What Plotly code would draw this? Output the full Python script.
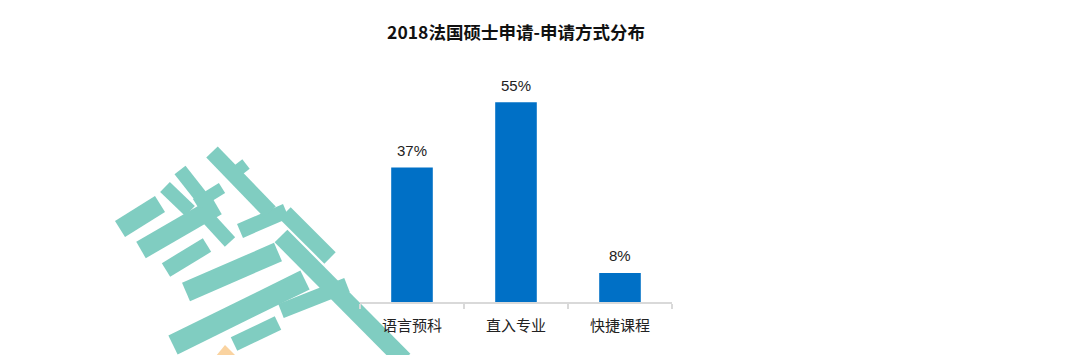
import plotly.graph_objects as go

categories = ["语言预科", "直入专业", "快捷课程"]
values = [37, 55, 8]
labels = ["37%", "55%", "8%"]

W, H = 1074, 355
L, R, T, B = 360, 672, 84, 302  # plot area in pixels

fig = go.Figure(go.Bar(
    x=categories, y=values,
    marker=dict(color="#0070C6", line=dict(width=0)),
    width=0.4, hoverinfo="x+y",
))

for c, v, t in zip(categories, values, labels):
    fig.add_annotation(x=c, y=v, xref="x", yref="y", text=t, showarrow=False,
                       yanchor="middle", yshift=17,
                       font=dict(family="Liberation Sans, Arial", size=15, color="#222222"))

def px(x, y):
    return (x - L) / (R - L), (B - y) / (B - T)

# decorative watermark strokes (pixel coords: x0, y0, x1, y1, width)
teal = "#80CDC1"
strokes = [
    (120, 229, 160, 204, 19),
    (141, 250, 217, 206, 19),
    (166, 270, 207, 245, 16),
    (186, 292, 278, 252, 20),
    (173, 345, 305, 280, 21),
    (234, 344, 278, 323, 15),
    (281, 311, 347, 285, 15),
    (240, 231, 286, 211, 15),
    (212, 152, 270, 212, 16),
    (228, 178, 246, 164, 12),
    (180, 170, 202, 198, 14),
    (165, 187, 190, 211, 14),
    (208, 218, 230, 242, 14),
    (196, 204, 222, 188, 12),
    (285, 213, 330, 258, 16),
    (281, 236, 404, 360, 18),
]
shapes = []
for x0, y0, x1, y1, w in strokes:
    a0, b0 = px(x0, y0)
    a1, b1 = px(x1, y1)
    shapes.append(dict(type="line", xref="paper", yref="paper", x0=a0, y0=b0, x1=a1, y1=b1,
                       line=dict(color=teal, width=w), layer="below"))
o = [px(216, 356), px(225, 345), px(236, 356)]
shapes.append(dict(type="path", xref="paper", yref="paper", layer="below",
                   path="M %f %f L %f %f L %f %f Z" % (o[0][0], o[0][1], o[1][0], o[1][1], o[2][0], o[2][1]),
                   fillcolor="#FAD3A0", line=dict(width=0)))

fig.update_layout(
    width=W, height=H,
    margin=dict(l=L, r=W - R, t=T, b=H - B, pad=0),
    paper_bgcolor="white", plot_bgcolor="rgba(0,0,0,0)",
    title=dict(text="<b>2018法国硕士申请-申请方式分布</b>", x=(L + R) / 2 / W, xanchor="center",
               y=1 - 33 / H, yanchor="middle",
               font=dict(family="Noto Sans CJK SC", size=17.5, color="#111111")),
    showlegend=False,
    bargap=0.6,
    shapes=shapes,
    xaxis=dict(showline=True, linecolor="#D9D9D9", linewidth=1.5, ticks="outside",
               tickson="boundaries", ticklen=5, tickcolor="#D9D9D9", tickwidth=1.5,
               ticklabelstandoff=9,
               tickfont=dict(family="Noto Sans CJK SC", size=15, color="#222222"),
               showgrid=False, zeroline=False),
    yaxis=dict(range=[0, 60], visible=False, showgrid=False, zeroline=False),
)

fig.write_html("out.html", config={"displayModeBar": False},
               post_script="document.body.style.margin='0px';")
